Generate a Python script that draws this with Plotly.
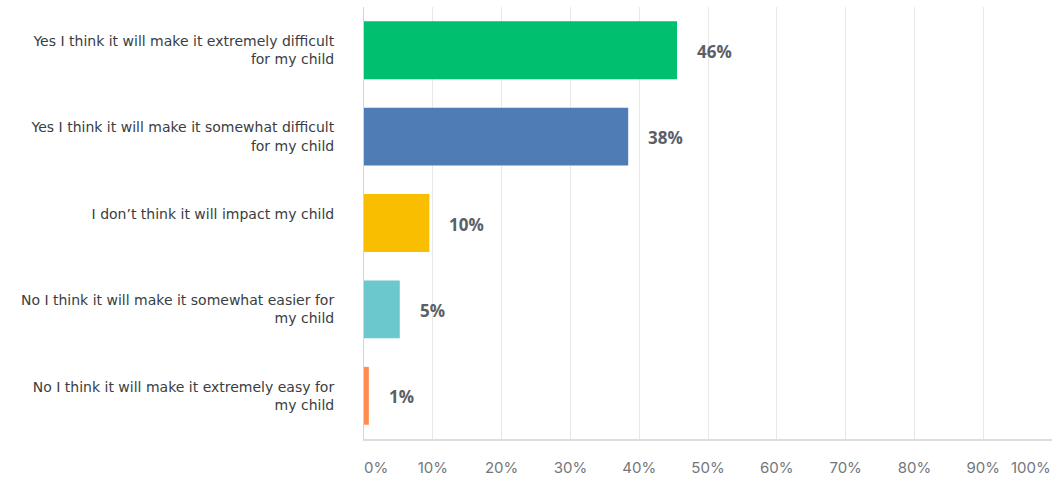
import plotly.graph_objects as go

categories = [
    "Yes I think it will make it extremely difficult<br>for my child",
    "Yes I think it will make it somewhat difficult<br>for my child",
    "I don\u2019t think it will impact my child<br> ",
    "No I think it will make it somewhat easier for<br>my child",
    "No I think it will make it extremely easy for<br>my child",
]
values = [45.5, 38.4, 9.5, 5.2, 0.7]
labels = ["46%", "38%", "10%", "5%", "1%"]
colors = ["#00BF6F", "#507CB6", "#F9BE00", "#6BC8CD", "#FF8B4F"]
tick_vals = [10, 20, 30, 40, 50, 60, 70, 80, 90]
tick_text = ["10%", "20%", "30%", "40%", "50%", "60%", "70%", "80%", "90%"]

fig = go.Figure()
fig.add_trace(go.Bar(
    x=values, y=categories, orientation="h",
    marker=dict(color=colors, line=dict(width=0)),
    hoverinfo="skip",
))

for v, c, t in zip(values, categories, labels):
    fig.add_annotation(x=v, y=c, text="<b>" + t + "</b>", showarrow=False,
                       xanchor="left", xshift=18, yshift=-1,
                       font=dict(family="Open Sans", size=17, color="#5b6067"))

tick_font = dict(family="Inter", size=15, color="#73777c")
fig.add_annotation(x=0, y=0, xref="x", yref="paper", text="0%", showarrow=False,
                   xanchor="center", yanchor="top", xshift=12, yshift=-17, font=tick_font)
fig.add_annotation(x=100, y=0, xref="x", yref="paper", text="100%", showarrow=False,
                   xanchor="center", yanchor="top", xshift=-21, yshift=-17, font=tick_font)

fig.update_layout(
    template="none",
    width=1060, height=479,
    margin=dict(l=364, r=8, t=7, b=40, autoexpand=False),
    paper_bgcolor="white", plot_bgcolor="white",
    bargap=0.33, showlegend=False,
    font=dict(family="DejaVu Sans", color="#333333"),
)
fig.update_xaxes(
    range=[0, 100], tickvals=tick_vals, ticktext=tick_text,
    showgrid=True, gridcolor="#e8e8e8", gridwidth=1,
    zeroline=False, showline=True, linecolor="#dddddd", linewidth=2,
    ticks="", tickfont=tick_font, ticklabelstandoff=14,
    automargin=False, fixedrange=True,
)
fig.update_yaxes(
    range=[4.5, -0.5], showgrid=False, zeroline=False,
    showline=True, linecolor="#d5d5d5", linewidth=1,
    ticks="", ticklabelstandoff=26,
    tickfont=dict(family="DejaVu Sans", size=14, color="#3a3d42"),
    automargin=False, fixedrange=True,
)

fig.write_html("out.html", config={"displayModeBar": False})
